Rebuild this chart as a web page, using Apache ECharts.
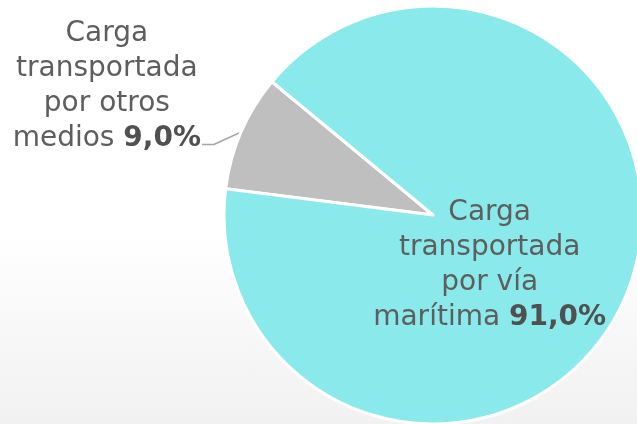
<!DOCTYPE html>
<html>
<head>
<meta charset="utf-8">
<script src="https://cdn.jsdelivr.net/npm/echarts@6/dist/echarts.min.js"></script>
<style>
  html, body { margin: 0; padding: 0; }
  #chart {
    width: 637px;
    height: 424px;
    background: linear-gradient(to bottom, #ffffff 0%, #ffffff 55%, #f1f1f1 100%);
  }
</style>
</head>
<body>
<div id="chart"></div>
<script>
// data
const labelLines = [
  ['Carga', 'transportada', 'por otros', 'medios'],
  ['Carga', 'transportada', 'por vía', 'marítima']
];
const values = [9.0, 91.0];
const colors = ['#bfbfbf', '#8ae9ea'];

const chart = echarts.init(document.getElementById('chart'));

const fmtPct = (v) => v.toFixed(1).replace('.', ',') + '%';

const makeLabel = (i) => {
  const lines = labelLines[i];
  const head = lines.slice(0, -1).map((l) => '{t|' + l + '}').join('\n');
  return head + '\n{t|' + lines[lines.length - 1] + ' }{b|' + fmtPct(values[i]) + '}';
};

const richStyle = {
  t: {
    fontFamily: 'DejaVu Sans',
    fontSize: 28,
    color: '#5e5e5e',
    lineHeight: 35,
    align: 'center'
  },
  b: {
    fontFamily: 'DejaVu Sans',
    fontSize: 28,
    fontWeight: 'bold',
    color: '#505050',
    lineHeight: 35,
    align: 'center'
  }
};

const option = {
  animation: false,
  series: [
    {
      type: 'pie',
      center: [433, 215],
      radius: 209,
      startAngle: 172.8,
      clockwise: true,
      itemStyle: {
        borderColor: '#ffffff',
        borderWidth: 3
      },
      data: values.map((v, i) => ({
        value: v,
        name: labelLines[i].join(' '),
        itemStyle: { color: colors[i] },
        label: i === 0
          ? { position: 'outside', formatter: () => makeLabel(0), rich: richStyle }
          : { position: 'inside', formatter: () => makeLabel(1), rich: richStyle },
        labelLine: {
          show: i === 0,
          length: 10,
          length2: 10,
          lineStyle: { color: '#a6a6a6', width: 1.5 }
        }
      })),
      labelLayout: (params) => {
        if (params.dataIndex === 1) {
          return { dx: -42, dy: 8 };
        }
        // outer label: shift it and bend the leader down to its last line
        const r = params.labelRect;
        const dx = -16;
        const dy = -42;
        const right = r.x + r.width + dx + 1;
        const y = r.y + r.height + dy - 8;
        return {
          dx: dx,
          dy: dy,
          labelLinePoints: [params.labelLinePoints[0], [right + 12, y], [right, y]]
        };
      }
    }
  ]
};

chart.setOption(option);
</script>
</body>
</html>
